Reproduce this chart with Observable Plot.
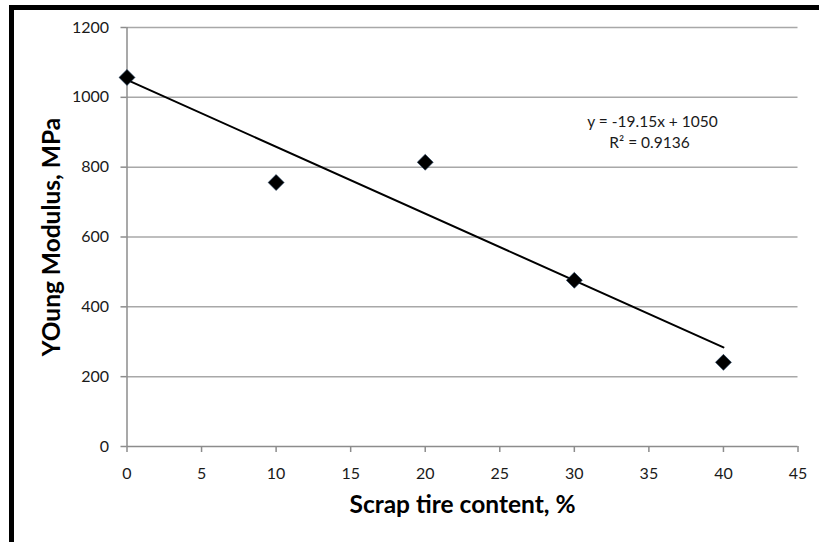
<!DOCTYPE html>
<html>
<head>
<meta charset="utf-8">
<script src="https://cdn.jsdelivr.net/npm/d3@7"></script>
<script src="https://cdn.jsdelivr.net/npm/@observablehq/plot@0.6"></script>
<style>
  html, body { margin: 0; padding: 0; background: #fff; }
  #wrap { position: relative; width: 819px; height: 542px; overflow: hidden; }
  #frame { position: absolute; left: 9px; top: 5px; width: 900px; height: 700px;
           border-left: 5px solid #000; border-top: 5px solid #000; box-sizing: border-box; }
  #chart { position: absolute; left: 0; top: 0; }
</style>
</head>
<body>
<div id="wrap"><div id="chart"></div><div id="frame"></div></div>
<script>
// Data
const scrapContent = [0, 10, 20, 30, 40];          // Scrap tire content, %
const youngModulus = [1057, 756, 814, 476, 241];   // Young Modulus, MPa
const trendContent = [0, 40];
const trendModulus = [1050, 284];                  // y = -19.15x + 1050
const xTicks = [0, 5, 10, 15, 20, 25, 30, 35, 40, 45];
const yTicks = [0, 200, 400, 600, 800, 1000, 1200];
const xTitle = "Scrap tire content, %";
const yTitle = "YOung Modulus, MPa";
const eqText = "y = -19.15x + 1050";
const r2Text = "R² = 0.9136";

const points = scrapContent.map((x, i) => ({x, y: youngModulus[i]}));
const trend = trendContent.map((x, i) => ({x, y: trendModulus[i]}));

const gridColor = "#a8a8a8";
const axisColor = "#8c8c8c";
const textColor = "#1a1a1a";

const chart = Plot.plot({
  width: 819,
  height: 542,
  marginLeft: 126.5,
  marginRight: 21.5,
  marginTop: 27,
  marginBottom: 96,
  x: {domain: [0, 45]},
  y: {domain: [0, 1200]},
  style: {fontFamily: "Lato, 'Open Sans', sans-serif", fontSize: "16px", color: textColor, background: "transparent"},
  marks: [
    Plot.gridY(yTicks.filter(d => d > 0), {stroke: gridColor, strokeOpacity: 1, strokeWidth: 1.5}),
    Plot.ruleX([0], {stroke: axisColor, strokeWidth: 1.5}),
    Plot.ruleY([0], {stroke: axisColor, strokeWidth: 1.5}),
    Plot.axisY(yTicks, {tickSize: 6, tickPadding: 12, stroke: axisColor, strokeWidth: 1.5, fill: textColor, label: null, fontSize: 16, tickFormat: d => String(d)}),
    Plot.axisX(xTicks, {tickSize: 6, tickPadding: 15, stroke: axisColor, strokeWidth: 1.5, fill: textColor, label: null, fontSize: 16, tickFormat: d => String(d)}),
    Plot.line(trend, {x: "x", y: "y", stroke: "#000", strokeWidth: 2}),
    Plot.dot(points, {x: "x", y: "y", symbol: "diamond2", r: 7.2, fill: "#000", stroke: "#1d3a5c", strokeWidth: 0.6}),
    Plot.text([eqText], {frameAnchor: "top-right", textAnchor: "middle", lineAnchor: "middle", dx: -145.5, dy: 95, fontSize: 15.5, fill: textColor}),
    Plot.text([r2Text], {frameAnchor: "top-right", textAnchor: "middle", lineAnchor: "middle", dx: -148.5, dy: 116, fontSize: 15.5, fill: textColor}),
    Plot.text([xTitle], {frameAnchor: "bottom", textAnchor: "middle", lineAnchor: "middle", dy: 59, fontSize: 24.5, fontWeight: "bold", fill: "#000"}),
    Plot.text([yTitle], {frameAnchor: "left", textAnchor: "middle", lineAnchor: "middle", dx: -75, rotate: -90, fontSize: 24.5, fontWeight: "bold", fill: "#000"})
  ]
});
document.getElementById("chart").appendChild(chart);
</script>
</body>
</html>
